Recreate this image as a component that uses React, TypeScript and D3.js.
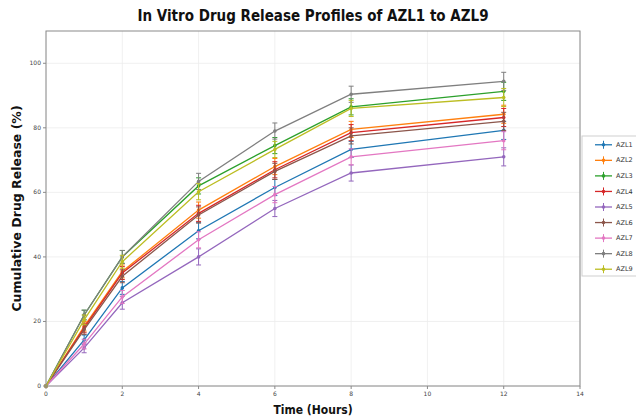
import React from 'react';
import * as d3 from 'd3';

// sampling times (hours)
const times = [0, 1, 2, 4, 6, 8, 12];

const seriesNames = ['AZL1', 'AZL2', 'AZL3', 'AZL4', 'AZL5', 'AZL6', 'AZL7', 'AZL8', 'AZL9'];

// cumulative release (%)
const azl1 = [0, 14.3, 30.4, 48.1, 61.5, 73.3, 79.2];
const azl2 = [0, 18.5, 35.5, 54.5, 68.0, 79.5, 84.2];
const azl3 = [0, 22.0, 40.0, 62.0, 74.5, 86.5, 91.3];
const azl4 = [0, 18.0, 35.0, 53.5, 67.0, 78.5, 83.2];
const azl5 = [0, 11.8, 25.8, 40.0, 55.0, 66.0, 71.0];
const azl6 = [0, 17.5, 34.0, 53.0, 66.5, 77.5, 82.0];
const azl7 = [0, 13.0, 27.6, 45.3, 59.3, 71.0, 76.0];
const azl8 = [0, 22.0, 40.0, 63.4, 79.0, 90.4, 94.4];
const azl9 = [0, 20.5, 38.5, 60.2, 73.3, 86.0, 89.4];

// standard deviation bars
const errBars = [0, 1.5, 2.0, 2.5, 2.5, 2.5, 2.8];

const xTicks = [0, 2, 4, 6, 8, 10, 12, 14];
const yTicks = [0, 20, 40, 60, 80, 100];

const colors = ['#1f77b4', '#ff7f0e', '#2ca02c', '#d62728', '#9467bd', '#8c564b', '#e377c2', '#7f7f7f', '#bcbd22'];

const allSeries = [azl1, azl2, azl3, azl4, azl5, azl6, azl7, azl8, azl9];

const width = 636;
const height = 420;
const margin = { top: 31, right: 56, bottom: 34, left: 46 };
const innerWidth = width - margin.left - margin.right;
const innerHeight = height - margin.top - margin.bottom;

const App = () => {
  const xScale = d3.scaleLinear().domain([0, 14]).range([0, innerWidth]);
  const yScale = d3.scaleLinear().domain([0, 110]).range([innerHeight, 0]);

  const lineGen = d3
    .line<number>()
    .x((d, i) => xScale(times[i]))
    .y((d) => yScale(d));

  const legendItem = d3.scaleBand().domain(seriesNames).range([136, 276]);

  return (
    <svg
      width={width}
      height={height}
      style={{ position: 'absolute', left: 0, top: 0, background: '#fff', fontFamily: 'DejaVu Sans' }}
    >
      <text
        x={margin.left + innerWidth / 2}
        y={21}
        textAnchor="middle"
        fontFamily="DejaVu Sans Condensed"
        fontWeight="bold"
        fontSize={15}
        fill="#111"
      >
        In Vitro Drug Release Profiles of AZL1 to AZL9
      </text>

      <g transform={`translate(${margin.left},${margin.top})`}>
        {/* grid */}
        {xTicks.map((t) => (
          <line key={'gx' + t} x1={xScale(t)} x2={xScale(t)} y1={0} y2={innerHeight} stroke="#ececec" strokeWidth={0.8} />
        ))}
        {yTicks.map((t) => (
          <line key={'gy' + t} x1={0} x2={innerWidth} y1={yScale(t)} y2={yScale(t)} stroke="#ececec" strokeWidth={0.8} />
        ))}

        {/* series */}
        {allSeries.map((vals, si) => (
          <g key={seriesNames[si]}>
            <path d={lineGen(vals) || ''} fill="none" stroke={colors[si]} strokeWidth={1.3} />
            {vals.map((v, i) =>
              errBars[i] > 0 ? (
                <g key={i} stroke={colors[si]} strokeWidth={1}>
                  <line x1={xScale(times[i])} x2={xScale(times[i])} y1={yScale(v - errBars[i])} y2={yScale(v + errBars[i])} />
                  <line x1={xScale(times[i]) - 2.5} x2={xScale(times[i]) + 2.5} y1={yScale(v - errBars[i])} y2={yScale(v - errBars[i])} />
                  <line x1={xScale(times[i]) - 2.5} x2={xScale(times[i]) + 2.5} y1={yScale(v + errBars[i])} y2={yScale(v + errBars[i])} />
                </g>
              ) : null
            )}
            {vals.map((v, i) => (
              <circle key={'m' + i} cx={xScale(times[i])} cy={yScale(v)} r={1.8} fill={colors[si]} />
            ))}
          </g>
        ))}

        {/* frame */}
        <rect x={0} y={0} width={innerWidth} height={innerHeight} fill="none" stroke="#8a8a8a" strokeWidth={1} />

        {/* ticks */}
        {xTicks.map((t) => (
          <g key={'tx' + t} transform={`translate(${xScale(t)},${innerHeight})`}>
            <line y2={3} stroke="#8a8a8a" />
            <text y={10} textAnchor="middle" fontSize={6} fill="#444">
              {t}
            </text>
          </g>
        ))}
        {yTicks.map((t) => (
          <g key={'ty' + t} transform={`translate(0,${yScale(t)})`}>
            <line x2={-3} stroke="#8a8a8a" />
            <text x={-5} dy="0.32em" textAnchor="end" fontSize={6} fill="#444">
              {t}
            </text>
          </g>
        ))}
      </g>

      <text
        x={margin.left + innerWidth / 2}
        y={414}
        textAnchor="middle"
        fontFamily="DejaVu Sans Condensed"
        fontWeight="bold"
        fontSize={12}
        fill="#111"
      >
        Time (Hours)
      </text>
      <text
        transform={`translate(21,${margin.top + innerHeight / 2}) rotate(-90)`}
        textAnchor="middle"
        fontWeight="bold"
        fontSize={12.5}
        fill="#111"
      >
        Cumulative Drug Release (%)
      </text>

      {/* legend */}
      <rect x={582} y={136} width={70} height={140} fill="#fff" stroke="#cfcfcf" strokeWidth={1} />
      {seriesNames.map((name, si) => {
        const cy = (legendItem(name) || 0) + legendItem.bandwidth() / 2 + 1;
        return (
          <g key={'lg' + name}>
            <line x1={595} x2={612} y1={cy} y2={cy} stroke={colors[si]} strokeWidth={1.3} />
            <line x1={603.5} x2={603.5} y1={cy - 4} y2={cy + 4} stroke={colors[si]} strokeWidth={1} />
            <circle cx={603.5} cy={cy} r={1.8} fill={colors[si]} />
            <text x={616} y={cy} dy="0.32em" fontSize={6.5} fill="#333">
              {name}
            </text>
          </g>
        );
      })}
    </svg>
  );
};

export default App;
